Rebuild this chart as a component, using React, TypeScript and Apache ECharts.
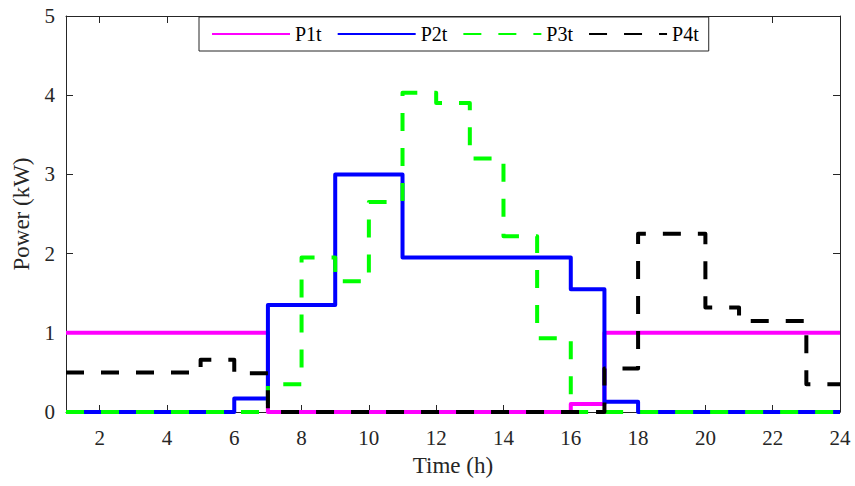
import React, { useEffect, useRef } from "react";
import * as echarts from "echarts";

const hours = [1, 2, 3, 4, 5, 6, 7, 8, 9, 10, 11, 12, 13, 14, 15, 16, 17, 18, 19, 20, 21, 22, 23, 24];
const xTicks = [2, 4, 6, 8, 10, 12, 14, 16, 18, 20, 22, 24];
const P1 = [1, 1, 1, 1, 1, 1, 0, 0, 0, 0, 0, 0, 0, 0, 0, 0.1, 1, 1, 1, 1, 1, 1, 1, 1];
const P2 = [0, 0, 0, 0, 0, 0.17, 1.35, 1.35, 3, 3, 1.95, 1.95, 1.95, 1.95, 1.95, 1.55, 0.13, 0, 0, 0, 0, 0, 0, 0];
const P3 = [0, 0, 0, 0, 0, 0, 0.35, 1.95, 1.65, 2.65, 4.03, 3.9, 3.2, 2.22, 0.93, 0, 0, 0, 0, 0, 0, 0, 0, 0];
const P4 = [0.5, 0.5, 0.5, 0.5, 0.66, 0.49, 0, 0, 0, 0, 0, 0, 0, 0, 0, 0, 0.55, 2.25, 2.25, 1.32, 1.15, 1.15, 0.35, 0.35];
const seriesNames = ["P1t", "P2t", "P3t", "P4t"];

const FONT = "'Liberation Serif', 'Times New Roman', serif";
const AX = "#262626";

export default function App() {
  const ref = useRef<HTMLDivElement>(null);
  useEffect(() => {
    if (!ref.current) return;
    const chart = echarts.init(ref.current, null, { renderer: "svg" });
    const mk = (name: string, vals: number[], color: string, dashed: boolean) => ({
      name,
      type: "line",
      step: "end",
      symbol: "none",
      showSymbol: false,
      data: hours.map((h, i) => [h, vals[i]]),
      lineStyle: {
        color,
        width: 4,
        type: dashed ? [18, 17] : "solid",
        join: "round",
        cap: "butt",
      },
      itemStyle: { color },
    });
    const axisCommon = {
      axisLine: { show: true, onZero: false, lineStyle: { color: AX, width: 1 } },
      splitLine: { show: false },
    };
    chart.setOption({
      animation: false,
      backgroundColor: "#fff",
      textStyle: { fontFamily: FONT },
      grid: { left: 66, right: 15, top: 16, bottom: 74, containLabel: false },
      legend: {
        left: 199,
        top: 17,
        data: seriesNames,
        itemWidth: 78,
        itemHeight: 14,
        itemGap: 15,
        padding: [7, 10, 7, 12],
        borderColor: AX,
        borderWidth: 1,
        backgroundColor: "#fff",
        itemStyle: { opacity: 0 },
        textStyle: { fontFamily: FONT, fontSize: 20, color: "#000" },
      },
      xAxis: [
        {
          type: "value",
          min: 1,
          max: 24,
          position: "bottom",
          name: "Time (h)",
          nameLocation: "middle",
          nameGap: 42,
          nameTextStyle: { fontFamily: FONT, fontSize: 23, color: AX },
          axisTick: { show: true, inside: true, length: 7, customValues: xTicks, lineStyle: { color: AX } },
          axisLabel: { show: true, customValues: xTicks, margin: 15, fontFamily: FONT, fontSize: 21, color: AX },
          ...axisCommon,
        },
        {
          type: "value",
          min: 1,
          max: 24,
          position: "top",
          axisTick: { show: true, inside: true, length: 7, customValues: xTicks, lineStyle: { color: AX } },
          axisLabel: { show: false },
          ...axisCommon,
        },
      ],
      yAxis: [
        {
          type: "value",
          min: 0,
          max: 5,
          interval: 1,
          position: "left",
          name: "Power (kW)",
          nameLocation: "middle",
          nameGap: 33,
          nameTextStyle: { fontFamily: FONT, fontSize: 23, color: AX },
          axisTick: { show: true, inside: true, length: 7, lineStyle: { color: AX } },
          axisLabel: { show: true, margin: 11, fontFamily: FONT, fontSize: 21, color: AX },
          ...axisCommon,
        },
        {
          type: "value",
          min: 0,
          max: 5,
          interval: 1,
          position: "right",
          axisTick: { show: true, inside: true, length: 7, lineStyle: { color: AX } },
          axisLabel: { show: false },
          ...axisCommon,
        },
      ],
      series: [
        mk(seriesNames[0], P1, "#ff00ff", false),
        mk(seriesNames[1], P2, "#0000ff", false),
        mk(seriesNames[2], P3, "#00ff00", true),
        mk(seriesNames[3], P4, "#000000", true),
      ],
    });
    return () => chart.dispose();
  }, []);
  return <div ref={ref} style={{ position: "fixed", left: 0, top: 0, width: 855, height: 486 }} />;
}
